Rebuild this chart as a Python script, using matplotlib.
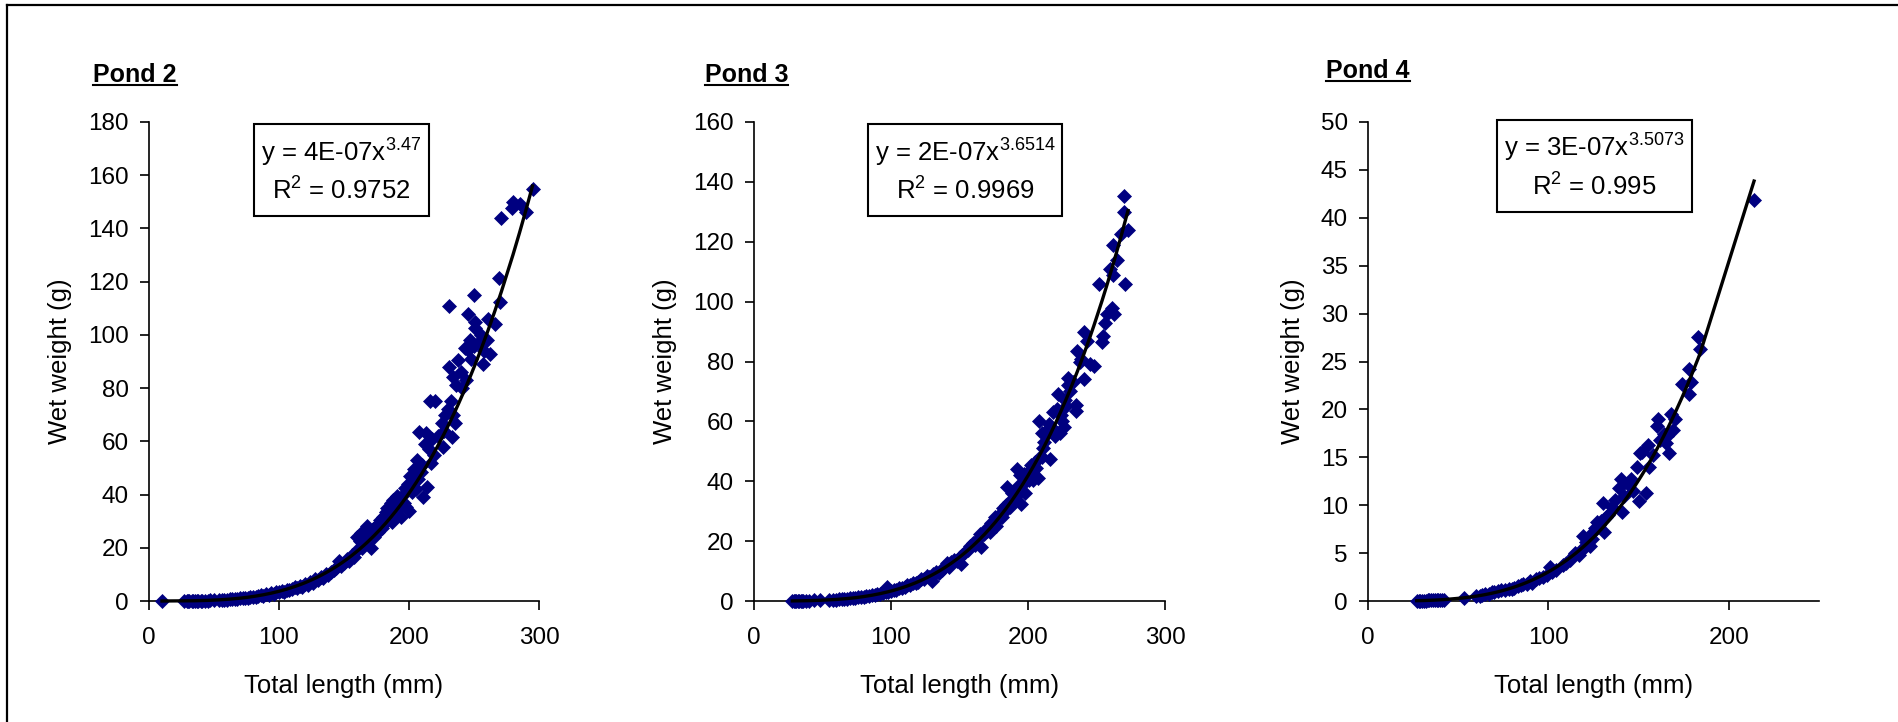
import numpy as np
import matplotlib
matplotlib.use("Agg")
import matplotlib.pyplot as plt
from matplotlib.lines import Line2D
from matplotlib.patches import Rectangle

plt.rcParams['font.family'] = ['Liberation Sans', 'DejaVu Sans']
plt.rcParams['mathtext.fontset'] = 'custom'
plt.rcParams['mathtext.rm'] = 'Liberation Sans'
plt.rcParams['mathtext.default'] = 'regular'

# (total length mm, wet weight g)
pond2 = [(10, 0.0012), (27, 0.035), (29, 0.045), (30, 0.05), (31, 0.05), (33, 0.07), (34, 0.065),
         (35, 0.09), (37, 0.09), (38, 0.11), (40, 0.13), (41, 0.12), (43, 0.16), (45, 0.18),
         (47, 0.22), (50, 0.28), (54, 0.36), (56, 0.42), (58, 0.5), (60, 0.55), (62, 0.64),
         (64, 0.7), (66, 0.78), (68, 0.88), (70, 0.95), (72, 1.05), (74, 1.12), (76, 1.3),
         (78, 1.4), (80, 1.6), (82, 1.5), (84, 1.9), (86, 2.1), (88, 2.0), (90, 2.45),
         (92, 2.4), (94, 2.85), (96, 2.75), (98, 3.2), (100, 3.35), (102, 3.7), (104, 3.5),
         (106, 4.1), (108, 4.3), (110, 4.5), (112, 5.1), (114, 4.85), (116, 5.7), (118, 5.4),
         (120, 6.5), (122, 6.2), (124, 7.2), (126, 6.9), (128, 8.2), (130, 7.8), (132, 9.1),
         (134, 8.6), (136, 10.3), (138, 9.7), (140, 10.9), (142, 11.6), (144, 12.4),
         (146, 15.0), (148, 13.3), (150, 14.3), (152, 15.7), (154, 15.0), (156, 17.1),
         (158, 16.4), (160, 24.0), (161, 19.5), (162, 22.5), (163, 25.5), (164, 20.0),
         (165, 23.0), (166, 21.5), (167, 26.5), (168, 28.0), (170, 25.0), (171, 20.0),
         (172, 27.0), (173, 24.0), (175, 28.5), (176, 26.0), (178, 30.5), (179, 27.5),
         (180, 31.5), (181, 29.0), (182, 33.5), (183, 35.0), (184, 31.0), (185, 34.0),
         (186, 37.0), (187, 29.5), (188, 38.0), (189, 33.0), (190, 36.0), (191, 39.5),
         (192, 35.0), (193, 37.5), (194, 31.5), (195, 40.0), (196, 37.0), (197, 42.5),
         (198, 35.5), (199, 44.0), (200, 34.0), (201, 47.0), (202, 41.0), (203, 44.5),
         (204, 49.5), (205, 42.0), (206, 53.0), (207, 46.0), (208, 63.5), (209, 48.5),
         (210, 51.0), (211, 39.0), (212, 59.0), (213, 63.0), (214, 43.0), (215, 57.0),
         (216, 75.0), (217, 52.0), (218, 61.0), (219, 55.0), (220, 75.0), (222, 62.0),
         (225, 67.0), (226, 58.0), (227, 64.0), (228, 70.0), (230, 72.0), (231, 88.0),
         (231, 111.0), (232, 75.0), (233, 61.5), (234, 84.0), (234, 70.0), (235, 67.0),
         (236, 81.0), (238, 90.5), (240, 86.0), (241, 80.0), (243, 95.0), (244, 83.0),
         (245, 108.0), (245, 94.5), (247, 98.0), (248, 91.0), (250, 115.0), (250, 96.0),
         (251, 105.0), (251, 102.5), (253, 97.0), (255, 100.0), (257, 89.0), (258, 94.0),
         (260, 98.0), (261, 106.0), (262, 93.0), (266, 104.0), (269, 121.5), (270, 112.5),
         (271, 144.0), (279, 147.5), (280, 150.0), (285, 149.0), (290, 146.0), (295, 155.0)]

pond3 = [(28, 0.03), (29, 0.04), (30, 0.04), (31, 0.05), (32, 0.05), (33, 0.06), (34, 0.07),
         (35, 0.07), (36, 0.08), (38, 0.1), (40, 0.12), (44, 0.17), (48, 0.23), (55, 0.4),
         (58, 0.45), (60, 0.5), (62, 0.6), (64, 0.65), (66, 0.75), (68, 0.8), (70, 0.9),
         (72, 1.0), (74, 1.1), (76, 1.25), (78, 1.35), (80, 1.5), (82, 1.6), (84, 1.8),
         (86, 1.9), (88, 2.1), (90, 2.3), (92, 2.5), (94, 2.7), (96, 2.9), (97, 4.6),
         (98, 3.1), (100, 3.3), (102, 3.7), (104, 3.8), (106, 4.2), (108, 4.4), (110, 4.7),
         (112, 5.2), (114, 5.4), (116, 6.0), (118, 6.1), (120, 6.5), (122, 7.5), (124, 7.2),
         (126, 8.2), (128, 7.9), (130, 6.8), (131, 9.0), (133, 9.6), (135, 9.3), (137, 10.5),
         (139, 11.3), (141, 12.8), (142, 11.5), (144, 13.0), (146, 13.8), (148, 13.5),
         (150, 14.8), (151, 12.5), (152, 15.5), (154, 16.5), (156, 17.0), (158, 18.5),
         (160, 19.5), (161, 18.6), (162, 19.5), (164, 21.0), (165, 22.5), (166, 18.0),
         (168, 22.5), (169, 24.0), (170, 23.5), (172, 23.0), (173, 26.0), (175, 26.5),
         (176, 28.0), (177, 25.0), (178, 27.5), (180, 29.5), (181, 28.0), (182, 31.0),
         (183, 30.0), (184, 32.0), (185, 38.0), (186, 33.0), (187, 31.5), (188, 36.0),
         (189, 33.5), (190, 36.0), (191, 35.0), (192, 44.0), (193, 38.5), (194, 42.0),
         (195, 32.4), (196, 39.0), (197, 42.5), (198, 36.0), (199, 41.0), (200, 43.0),
         (201, 40.5), (202, 45.5), (203, 43.0), (204, 40.5), (205, 46.5), (206, 44.5),
         (207, 41.0), (208, 60.0), (209, 48.0), (210, 56.0), (210, 48.0), (211, 51.0),
         (212, 53.0), (213, 55.5), (214, 57.0), (215, 59.0), (216, 47.5), (217, 58.0),
         (218, 63.0), (219, 57.0), (220, 55.0), (221, 64.0), (222, 69.0), (223, 56.0),
         (224, 62.0), (225, 60.0), (226, 58.0), (227, 67.0), (228, 65.0), (229, 74.5),
         (229, 72.0), (231, 70.0), (233, 73.0), (235, 65.6), (235, 63.4), (236, 83.6),
         (238, 80.0), (239, 81.0), (241, 90.0), (241, 74.0), (243, 87.0), (245, 79.0),
         (248, 78.5), (252, 106.0), (254, 86.5), (255, 88.6), (256, 93.0), (258, 96.0),
         (260, 111.0), (261, 98.0), (262, 119.0), (262, 109.0), (263, 96.0), (265, 114.0),
         (268, 122.5), (270, 135.4), (270, 130.0), (271, 106.0), (273, 124.0)]

pond4 = [(27, 0.02), (28, 0.03), (29, 0.03), (30, 0.04), (31, 0.04), (32, 0.05), (33, 0.06),
         (34, 0.06), (35, 0.07), (36, 0.08), (37, 0.09), (38, 0.1), (39, 0.11), (40, 0.12),
         (41, 0.13), (42, 0.14), (53, 0.35), (60, 0.5), (62, 0.55), (63, 0.65), (65, 0.75),
         (67, 0.75), (69, 0.9), (70, 0.95), (72, 1.0), (74, 1.1), (76, 1.2), (78, 1.25),
         (80, 1.3), (81, 1.4), (83, 1.6), (85, 1.7), (86, 1.8), (88, 1.8), (90, 2.1),
         (91, 1.9), (93, 2.3), (95, 2.4), (97, 2.5), (99, 2.7), (101, 3.6), (102, 3.0),
         (104, 3.2), (108, 3.8), (110, 4.0), (112, 4.3), (114, 4.8), (115, 5.0), (117, 4.8),
         (118, 5.3), (119, 6.8), (120, 5.5), (121, 6.2), (123, 5.7), (124, 6.5), (125, 7.2),
         (126, 7.6), (127, 8.2), (128, 7.9), (129, 8.4), (130, 10.2), (131, 7.2), (132, 8.8),
         (133, 9.0), (135, 9.8), (137, 10.5), (139, 11.8), (140, 12.7), (141, 9.3),
         (142, 11.0), (144, 12.2), (146, 12.7), (147, 11.5), (149, 14.0), (150, 10.4),
         (151, 15.4), (152, 15.6), (154, 11.3), (155, 16.3), (156, 14.0), (158, 15.2),
         (160, 18.3), (161, 19.0), (162, 16.8), (164, 17.4), (165, 16.5), (166, 17.2),
         (167, 15.5), (168, 19.5), (169, 17.9), (170, 19.0), (174, 22.6), (178, 24.2),
         (178, 21.6), (179, 22.9), (183, 27.6), (184, 26.3), (214, 41.9)]

titles = ['Pond 2', 'Pond 3', 'Pond 4']
exponents = [3.47, 3.6514, 3.5073]
equations = ['y = 4E-07x$^{3.47}$', 'y = 2E-07x$^{3.6514}$', 'y = 3E-07x$^{3.5073}$']
r_squared = ['R$^{2}$ = 0.9752', 'R$^{2}$ = 0.9969', 'R$^{2}$ = 0.995']
x_max = [300, 300, 250]
x_ticks = [[0, 100, 200, 300], [0, 100, 200, 300], [0, 100, 200]]
y_max = [180, 160, 50]
y_step = [20, 20, 5]

W, H = 1899, 722
fig = plt.figure(figsize=(W / 100, H / 100), dpi=100)


def fx(x):
    return x / W


def fy(y):
    return 1 - y / H


# layout in pixels
axes_px = [(149, 539), (754, 1165), (1368, 1819)]   # left, right
ax_top, ax_bot = 122, 601
title_px = [(93, 82), (705, 82), (1326, 78)]
box_px = [(254, 429, 124, 216), (868, 1062, 124, 216), (1497, 1692, 120, 212)]
eq_base = [(162, 200), (162, 200), (157, 196)]
ylab_x = [60, 665, 1293]

tick_fs = 17.5
lab_fs = 18.5
navy = '#000080'
renderer = fig.canvas.get_renderer()

for i, data in enumerate([pond2, pond3, pond4]):
    d = np.array(data)
    x, y = d[:, 0], d[:, 1]
    l, r = axes_px[i]
    ax = fig.add_axes([fx(l), fy(ax_bot), (r - l) / W, (ax_bot - ax_top) / H])
    ax.plot(x, y, 'D', color=navy, ms=7.6, mec=navy, mew=0.5, clip_on=False, zorder=3)

    # power trendline: exponent as reported, coefficient fitted in log space
    b = exponents[i]
    a = np.exp(np.mean(np.log(y) - b * np.log(x)))
    xs = np.unique(x)
    ax.plot(xs, a * xs ** b, color='black', lw=2.4, clip_on=False, zorder=4)

    ax.set_xlim(0, x_max[i])
    ax.set_ylim(0, y_max[i])
    ax.set_xticks(x_ticks[i])
    ax.set_yticks(np.arange(0, y_max[i] + 1, y_step[i]))
    for s in ['top', 'right']:
        ax.spines[s].set_visible(False)
    for s in ['left', 'bottom']:
        ax.spines[s].set_linewidth(1.2)
    ax.tick_params(axis='both', direction='out', length=6.5, width=1.2, labelsize=tick_fs)
    ax.tick_params(axis='x', pad=12)
    ax.tick_params(axis='y', pad=8)

    ax.set_xlabel('Total length (mm)', fontsize=lab_fs, va='center')
    ax.xaxis.set_label_coords(0.5, (ax_bot - 686) / (ax_bot - ax_top))
    ax.set_ylabel('Wet weight (g)', fontsize=lab_fs, va='center', rotation_mode='default')
    ax.yaxis.set_label_coords((ylab_x[i] - l) / (r - l), 0.5)

    # title with underline
    tx, ty = title_px[i]
    t = fig.text(fx(tx), fy(ty), titles[i], fontsize=18, fontweight='bold', va='baseline')
    bb = t.get_window_extent(renderer)
    fig.add_artist(Line2D([bb.x0 / W, bb.x1 / W], [fy(ty + 3), fy(ty + 3)],
                          transform=fig.transFigure, color='black', lw=1.5))

    # equation box
    bx0, bx1, by0, by1 = box_px[i]
    fig.add_artist(Rectangle((fx(bx0), fy(by1)), (bx1 - bx0) / W, (by1 - by0) / H,
                             transform=fig.transFigure, fc='white', ec='black', lw=1.5))
    cx = fx((bx0 + bx1) / 2)
    fig.text(cx, fy(eq_base[i][0]), equations[i], ha='center', va='baseline', fontsize=lab_fs)
    fig.text(cx, fy(eq_base[i][1]), r_squared[i], ha='center', va='baseline', fontsize=lab_fs)

# outer chart frame (left and top edges visible)
fig.add_artist(Line2D([fx(7), fx(7)], [fy(5), 0], transform=fig.transFigure, color='black', lw=1.6))
fig.add_artist(Line2D([fx(7), 1], [fy(5), fy(5)], transform=fig.transFigure, color='black', lw=1.6))

fig.savefig('out.png', dpi=100)
